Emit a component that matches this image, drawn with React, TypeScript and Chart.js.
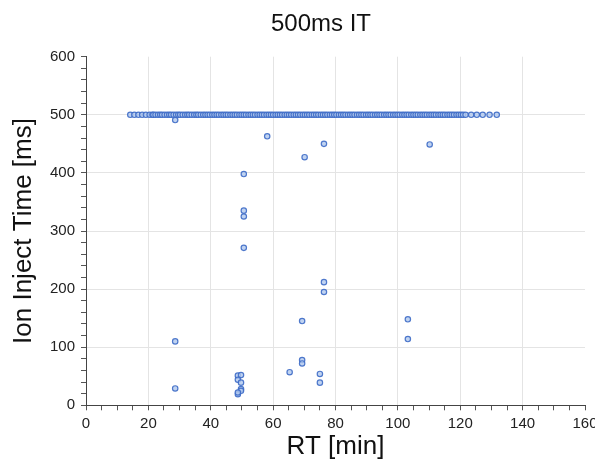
import React, { useEffect, useRef } from "react";
import { Chart, registerables } from "chart.js";

Chart.register(...registerables);

// Retention time (min) of scans that hit the 500 ms injection-time ceiling
const rtAtMax: number[] = [
  14.2, 15.5, 16.8, 18.0, 19.2, 20.4, 21.3, 21.6, 22.3, 23.1, 23.8, 24.4, 25.2, 26.0, 26.7,
  27.3, 28.1, 28.9, 29.6, 30.2, 31.0, 31.8, 32.5, 33.1, 33.9, 34.7, 35.4, 36.0, 36.8, 37.6,
  38.3, 39.0, 39.7, 40.5, 41.2, 41.9, 42.6, 43.4, 44.1, 44.8, 45.5, 46.3, 47.0, 47.7, 48.4,
  49.2, 49.9, 50.6, 51.3, 52.1, 52.8, 53.5, 54.2, 55.0, 55.7, 56.4, 57.1, 57.9, 58.6, 59.3,
  60.0, 60.8, 61.5, 62.2, 62.9, 63.7, 64.4, 65.1, 65.8, 66.6, 67.3, 68.0, 68.7, 69.5, 70.2,
  70.9, 71.6, 72.4, 73.1, 73.8, 74.5, 75.3, 76.0, 76.7, 77.4, 78.2, 78.9, 79.6, 80.3, 81.1,
  81.8, 82.5, 83.2, 84.0, 84.7, 85.4, 86.1, 86.9, 87.6, 88.3, 89.0, 89.8, 90.5, 91.2, 91.9,
  92.7, 93.4, 94.1, 94.8, 95.6, 96.3, 97.0, 97.7, 98.5, 99.2, 99.9, 100.6, 101.4, 102.1,
  102.8, 103.5, 104.3, 105.0, 105.7, 106.4, 107.2, 107.9, 108.6, 109.3, 110.1, 110.8, 111.5,
  112.2, 113.0, 113.7, 114.4, 115.1, 115.9, 116.6, 117.3, 118.0, 118.8, 119.5, 120.2, 120.9,
  121.7, 123.5, 125.3, 127.2, 129.4, 131.7,
];
const itMax = 500;

// Scans below the ceiling
const rtBelow: number[] = [
  28.6, 58.1, 70.1, 76.3, 110.2, 50.6, 50.6, 50.6, 50.6, 76.3, 76.3, 69.3, 103.2, 103.2,
  28.6, 28.6, 69.3, 69.3, 65.3, 75.0, 75.0, 48.7, 49.7, 48.7, 49.7, 49.7, 49.7, 48.7, 48.7,
];
const itBelow: number[] = [
  491, 463, 427, 450, 449, 398, 335, 325, 271, 212, 195, 145, 148, 114,
  110, 29, 78, 72, 57, 54, 39, 51, 52, 44, 39, 28, 25, 19, 22,
];

const titleText = "500ms IT";
const xTitle = "RT [min]";
const yTitle = "Ion Inject Time [ms]";

const FONT = '"Liberation Sans", Arial, sans-serif';

export default function App() {
  const ref = useRef<HTMLCanvasElement | null>(null);

  useEffect(() => {
    if (!ref.current) return;
    const pointStyle = {
      pointRadius: 2.7,
      pointBorderWidth: 1.2,
      pointBorderColor: "rgba(62,108,198,0.9)",
      pointBackgroundColor: "rgba(176,200,238,0.8)",
      showLine: false,
    };
    const titleShift = {
      id: "titleShift",
      afterLayout(chart: any) {
        const tb = chart.titleBlock;
        if (tb) tb.left += 49;
      },
    };
    const chart = new Chart(ref.current, {
      type: "scatter",
      data: {
        datasets: [
          { data: rtAtMax.map((x) => ({ x, y: itMax })), ...pointStyle },
          { data: rtBelow.map((x, i) => ({ x, y: itBelow[i] })), ...pointStyle },
        ],
      },
      plugins: [titleShift],
      options: {
        animation: false,
        responsive: true,
        maintainAspectRatio: false,
        layout: { padding: { left: 0, right: 10, top: 0, bottom: 0 } },
        plugins: {
          legend: { display: false },
          tooltip: { enabled: false },
          title: {
            display: true,
            text: titleText,
            color: "#111",
            font: { family: FONT, size: 24, weight: "normal" },
            padding: { top: 1.8, bottom: 18.1 },
          },
        },
        scales: {
          x: {
            type: "linear",
            min: 0,
            max: 160,
            afterFit(s: any) {
              s.height = 62.7;
              s.paddingLeft = 0;
              s.paddingRight = 0;
            },
            ticks: {
              stepSize: 5,
              autoSkip: false,
              maxRotation: 0,
              padding: 4.7,
              color: "#222",
              font: { family: FONT, size: 15 },
              callback: (v: any) => (Number(v) % 20 === 0 ? String(v) : ""),
            },
            grid: {
              tickLength: 5,
              color: (c: any) => {
                const v = c.tick ? c.tick.value : 0;
                return v % 20 === 0 && v > 0 && v < 160 ? "#e4e4e4" : "rgba(0,0,0,0)";
              },
              tickColor: "#555",
            },
            border: { display: true, color: "#444", width: 1 },
            title: {
              display: true,
              text: xTitle,
              color: "#111",
              font: { family: FONT, size: 26, lineHeight: 1.2 },
              padding: { top: 0, bottom: 5.5 },
            },
          },
          y: {
            type: "linear",
            min: 0,
            max: 600,
            afterFit(s: any) {
              s.width = 78;
              s.paddingTop = 0;
              s.paddingBottom = 0;
            },
            ticks: {
              stepSize: 20,
              autoSkip: false,
              padding: 6,
              color: "#222",
              font: { family: FONT, size: 15 },
              callback: (v: any) => (Number(v) % 100 === 0 ? String(v) : ""),
            },
            grid: {
              tickLength: 5,
              color: (c: any) => {
                const v = c.tick ? c.tick.value : 0;
                return v % 100 === 0 && v > 0 && v < 600 ? "#e4e4e4" : "rgba(0,0,0,0)";
              },
              tickColor: "#555",
            },
            border: { display: true, color: "#444", width: 1 },
            title: {
              display: true,
              text: yTitle,
              color: "#111",
              font: { family: FONT, size: 26, lineHeight: 1.2 },
              padding: { top: 0.4, bottom: 0 },
            },
          },
        },
      },
    });
    return () => chart.destroy();
  }, []);

  return (
    <div style={{ width: "100%", height: 460, marginBottom: -8, position: "relative" }}>
      <canvas ref={ref} />
    </div>
  );
}
